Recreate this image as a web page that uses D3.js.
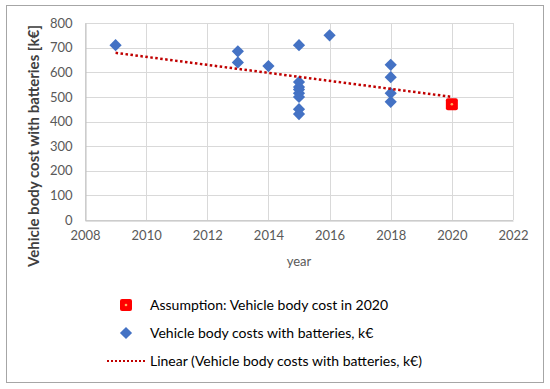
<!DOCTYPE html>
<html>
<head>
<meta charset="utf-8">
<script src="https://cdn.jsdelivr.net/npm/d3@7"></script>
<style>
  body { margin: 0; background: white; }
  text { font-family: Lato, "Open Sans", sans-serif; }
</style>
</head>
<body>
<div id="chart"></div>
<script>
// data
var years = [2009, 2013, 2013, 2014, 2015, 2015, 2015, 2015, 2015, 2015, 2015, 2015, 2016, 2018, 2018, 2018, 2018];
var costs = [710, 685, 640, 625, 710, 560, 540, 530, 515, 500, 450, 430, 750, 630, 580, 515, 480];
var assumptionYear = [2020];
var assumptionCost = [470];
var xTicks = [2008, 2010, 2012, 2014, 2016, 2018, 2020, 2022];
var yTicks = [0, 100, 200, 300, 400, 500, 600, 700, 800];
var trendRange = [2009, 2020];
var legendLabels = [
  "Assumption: Vehicle body cost in 2020",
  "Vehicle body costs with batteries, k€",
  "Linear (Vehicle body costs with batteries, k€)"
];

var W = 550, H = 389;
var margin = { left: 85, right: 37, top: 23, bottom: 169 };

var svg = d3.select("#chart").append("svg")
  .attr("width", W).attr("height", H);

// outer frame
svg.append("rect")
  .attr("x", 6.5).attr("y", 5.5)
  .attr("width", 537).attr("height", 377)
  .attr("fill", "white").attr("stroke", "#a6a6a6").attr("stroke-width", 1);

var x = d3.scaleLinear().domain([2008, 2022]).range([margin.left, W - margin.right]);
var y = d3.scaleLinear().domain([0, 800]).range([H - margin.bottom, margin.top]);

// grid
svg.append("g")
  .selectAll("line.h").data(yTicks).enter().append("line")
  .attr("x1", x(2008)).attr("x2", x(2022))
  .attr("y1", function (d) { return Math.round(y(d)) + 0.5; })
  .attr("y2", function (d) { return Math.round(y(d)) + 0.5; })
  .attr("stroke", "#d9d9d9").attr("stroke-width", 1);
svg.append("g")
  .selectAll("line.v").data(xTicks).enter().append("line")
  .attr("y1", y(0)).attr("y2", y(800))
  .attr("x1", function (d) { return Math.round(x(d)) + 0.5; })
  .attr("x2", function (d) { return Math.round(x(d)) + 0.5; })
  .attr("stroke", "#d9d9d9").attr("stroke-width", 1);

// axes
var xAxis = svg.append("g")
  .attr("transform", "translate(0," + (Math.round(y(0)) + 0.5) + ")")
  .call(d3.axisBottom(x).tickValues(xTicks).tickFormat(d3.format("d")).tickSize(0).tickPadding(10));
xAxis.select(".domain").attr("stroke", "#bfbfbf");
xAxis.selectAll("text").style("font-size", "13px").attr("fill", "#595959")
  .style("font-family", "Lato, 'Open Sans', sans-serif");

var yAxis = svg.append("g")
  .attr("transform", "translate(" + (Math.round(x(2008)) + 0.5) + ",0)")
  .call(d3.axisLeft(y).tickValues(yTicks).tickSize(0).tickPadding(13));
yAxis.select(".domain").attr("stroke", "#bfbfbf");
yAxis.selectAll("text").style("font-size", "13px").attr("fill", "#595959")
  .style("font-family", "Lato, 'Open Sans', sans-serif");

// axis titles
svg.append("text")
  .attr("transform", "translate(39,146) rotate(-90)")
  .attr("text-anchor", "middle")
  .style("font-size", "15px").style("font-weight", "bold")
  .attr("fill", "#404040")
  .text("Vehicle body cost with batteries [k€]");

svg.append("text")
  .attr("x", (x(2008) + x(2022)) / 2).attr("y", 266)
  .attr("text-anchor", "middle")
  .style("font-size", "13px").attr("fill", "#595959")
  .text("year");

// linear trendline (least squares over the blue series)
var mx = d3.mean(years), my = d3.mean(costs);
var sxy = d3.sum(years, function (v, i) { return (v - mx) * (costs[i] - my); });
var sxx = d3.sum(years, function (v) { return (v - mx) * (v - mx); });
var slope = sxy / sxx, icpt = my - slope * mx;
var line = d3.line()
  .x(function (d) { return x(d); })
  .y(function (d) { return y(icpt + slope * d); });

// diamonds
var diamond = d3.symbol().type(d3.symbolDiamond2).size(95);
svg.append("g").selectAll("path").data(years).enter().append("path")
  .attr("d", diamond)
  .attr("transform", function (d, i) { return "translate(" + x(d) + "," + y(costs[i]) + ")"; })
  .attr("fill", "#4472c4");

svg.append("path")
  .datum(trendRange)
  .attr("d", line)
  .attr("fill", "none")
  .attr("stroke", "#c00000")
  .attr("stroke-width", 2.5)
  .attr("stroke-dasharray", "2.5,2.5");

// assumption marker
function redSquare(g) {
  g.append("rect").attr("x", -6).attr("y", -6).attr("width", 12).attr("height", 12)
    .attr("rx", 2).attr("fill", "#ff0000");
  g.append("circle").attr("r", 1.3).attr("fill", "#ffb060");
}
assumptionYear.forEach(function (d, i) {
  var g = svg.append("g").attr("transform", "translate(" + x(d) + "," + y(assumptionCost[i]) + ")");
  redSquare(g);
});

// legend
var legY = [305, 333, 361];
var leg = svg.append("g");
var g0 = leg.append("g").attr("transform", "translate(126," + legY[0] + ")");
redSquare(g0);
leg.append("path").attr("d", diamond)
  .attr("transform", "translate(126," + legY[1] + ")")
  .attr("fill", "#4472c4");
leg.append("line")
  .attr("x1", 107).attr("x2", 145)
  .attr("y1", legY[2]).attr("y2", legY[2])
  .attr("stroke", "#c00000").attr("stroke-width", 2)
  .attr("stroke-dasharray", "2,2");
leg.selectAll("text").data(legendLabels).enter().append("text")
  .attr("x", 150)
  .attr("y", function (d, i) { return legY[i] + 5; })
  .style("font-size", "14px").attr("fill", "#000")
  .text(function (d) { return d; });
</script>
</body>
</html>
